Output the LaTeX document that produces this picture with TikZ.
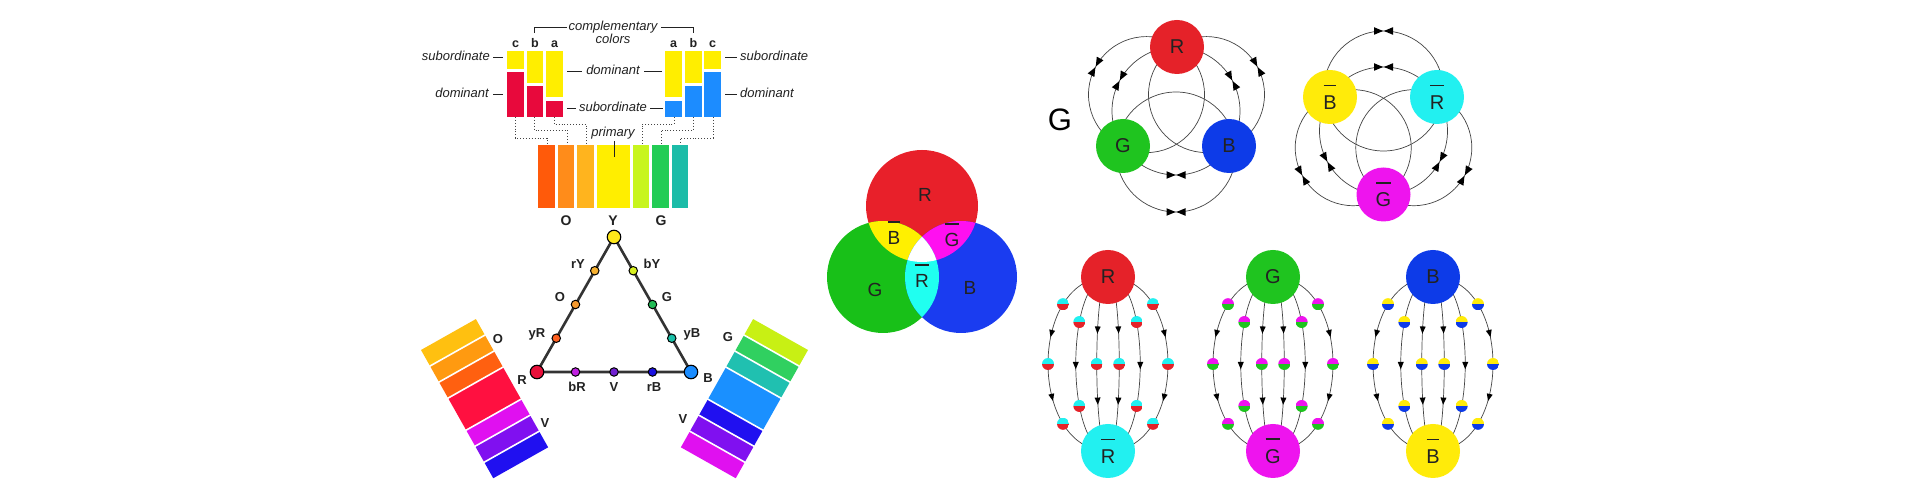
\documentclass[tikz,border=0pt]{standalone}
\usepackage{fontspec}
\setmainfont{Liberation Sans}
\usetikzlibrary{calc,shapes.geometric}
\pgfdeclarelayer{background}
\pgfsetlayers{background,main}
\definecolor{txt}{HTML}{222222}
\definecolor{dotc}{HTML}{444444}
\definecolor{tril}{HTML}{333333}
\definecolor{edgec}{HTML}{444444}
\definecolor{byel}{HTML}{FFEE00}
\definecolor{bred}{HTML}{E8093C}
\definecolor{bblu}{HTML}{1C8CFF}
\definecolor{s1}{HTML}{FF5A0A}
\definecolor{s2}{HTML}{FF8C1A}
\definecolor{s3}{HTML}{FFB41E}
\definecolor{s4}{HTML}{FFEE00}
\definecolor{s5}{HTML}{C8F51E}
\definecolor{s6}{HTML}{22CC55}
\definecolor{s7}{HTML}{1CBCA8}
\definecolor{tY}{HTML}{FFE81A}
\definecolor{tR}{HTML}{E8103A}
\definecolor{tB}{HTML}{1A8CFF}
\definecolor{trY}{HTML}{F5B030}
\definecolor{tbY}{HTML}{D8F020}
\definecolor{tO}{HTML}{F59A30}
\definecolor{tG}{HTML}{22BB55}
\definecolor{tyR}{HTML}{FF6020}
\definecolor{tyB}{HTML}{1AC0A8}
\definecolor{tbR}{HTML}{C020E0}
\definecolor{tV}{HTML}{7020D0}
\definecolor{trB}{HTML}{1A10E0}
\definecolor{fA}{HTML}{FFC010}
\definecolor{fO}{HTML}{FF9A10}
\definecolor{fD}{HTML}{FF6010}
\definecolor{fR}{HTML}{FF1040}
\definecolor{fM}{HTML}{E010F0}
\definecolor{fP}{HTML}{8010F0}
\definecolor{fB}{HTML}{2010F0}
\definecolor{fYG}{HTML}{C8F014}
\definecolor{fG}{HTML}{30D060}
\definecolor{fT}{HTML}{20C0B0}
\definecolor{fBl}{HTML}{1A90FF}
\definecolor{vR}{HTML}{E8202A}
\definecolor{vG}{HTML}{18C018}
\definecolor{vB}{HTML}{1A3CF0}
\definecolor{vY}{HTML}{FFF000}
\definecolor{vM}{HTML}{FF10F0}
\definecolor{vC}{HTML}{20FFF0}
\definecolor{gR}{HTML}{E52229}
\definecolor{gG}{HTML}{1FC41F}
\definecolor{gB}{HTML}{0D3BE8}
\definecolor{gY}{HTML}{FFEB0A}
\definecolor{gC}{HTML}{22F0F0}
\definecolor{gM}{HTML}{EE14EE}
\newcommand\obar[1]{\setbox0\hbox{#1}\vbox{\hbox to \wd0{\hss\vrule width 0.95\wd0 height 1.8pt\hss}\kern3pt\box0}}
\newcommand\tiearrows[3]{\begin{scope}[shift={($(#1)+(#3:#2)$)}, rotate=#3]
 \fill[black] (0,0.4) -- (-3.8,9.5) -- (3.8,9.5) -- cycle;
 \fill[black] (0,-0.4) -- (-3.8,-9.5) -- (3.8,-9.5) -- cycle;
 \end{scope}}
\newcommand\fluxgraph[6]{%
 \node[gnode, fill=#3] (#1t) at (#2,223) {#5};
 \node[gnode, fill=#4] (#1b) at (#2,49) {#6};
 \begin{pgfonlayer}{background}
 \foreach \s in {-1,1}{%
  \draw[fedge] (#1t.center) .. controls +(\s*80,0) and +(\s*80,0) .. (#1b.center)
   node[hd={#4}{#3},pos=.25]{} node[am,pos=.375]{} node[hd={#4}{#3},pos=.5]{} node[am,pos=.625]{} node[hd={#4}{#3},pos=.75]{};
  \draw[fedge] (#1t.center) .. controls +(\s*43,0) and +(\s*43,0) .. (#1b.center)
   node[hd={#4}{#3},pos=.333]{} node[am,pos=.5]{} node[hd={#4}{#3},pos=.667]{};
  \draw[fedge] (#1t.center) .. controls +(\s*15,0) and +(\s*15,0) .. (#1b.center)
   node[am,pos=.36]{} node[hd={#4}{#3},pos=.5]{} node[am,pos=.64]{};
 }
 \end{pgfonlayer}}
\tikzset{
 txtl/.style={font=\fontsize{13}{14}\selectfont\itshape, text=txt, inner sep=0},
 bl/.style={font=\fontsize{12.5}{13}\selectfont\bfseries, text=txt, inner sep=0},
 tl/.style={font=\fontsize{13}{14}\selectfont\bfseries, text=txt, inner sep=0},
 vl/.style={font=\fontsize{19}{19}\selectfont, text=txt, inner sep=0},
 lblrule/.style={draw=txt, line width=0.9},
 dotl/.style={draw=dotc, dotted, line width=0.9},
 triline/.style={draw=tril, line width=2.6},
 bigv/.style={circle, draw=black, line width=1.1, minimum size=13.5, inner sep=0},
 smv/.style={circle, draw=black, line width=1.0, minimum size=8.5, inner sep=0},
 gnode/.style={circle, minimum size=54, inner sep=0, font=\fontsize{20}{20}\selectfont, text=txt},
 gedge/.style={draw=edgec, line width=0.7},
 fedge/.style={draw=edgec, line width=0.7},
 am/.style={isosceles triangle, isosceles triangle apex angle=45, fill=black, inner sep=0, minimum width=6, minimum height=6, sloped, allow upside down},
 hd/.style 2 args={circle, minimum size=12, inner sep=0,
   path picture={\fill[#1] (path picture bounding box.north west) rectangle (path picture bounding box.east);
                 \fill[#2] (path picture bounding box.west) rectangle (path picture bounding box.south east);}}
}
\begin{document}
\begin{tikzpicture}[x=1pt,y=1pt]
\useasboundingbox (0,0) rectangle (1920,500);
\begin{pgfonlayer}{background}\fill[white] (0,0) rectangle (1920,500);\end{pgfonlayer}

% ---------------- bar chart
\fill[byel] (507,449) rectangle (524,431);
\fill[bred] (507,428) rectangle (524,383);
\fill[byel] (527,449) rectangle (543,417);
\fill[bred] (527,414) rectangle (543,383);
\fill[byel] (546,449) rectangle (563,403);
\fill[bred] (546,399) rectangle (563,383);
\fill[byel] (665,449) rectangle (682,403);
\fill[bblu] (665,399) rectangle (682,383);
\fill[byel] (685,449) rectangle (702,417);
\fill[bblu] (685,414) rectangle (702,383);
\fill[byel] (704,449) rectangle (721,431);
\fill[bblu] (704,428) rectangle (721,383);

\node[bl, anchor=base] (lc1) at (515.5,452.5) {c};
\node[bl, anchor=base] (lb1) at (535,452.5) {b};
\node[bl, anchor=base] (la1) at (554.5,452.5) {a};
\node[bl, anchor=base] (la2) at (673.5,452.5) {a};
\node[bl, anchor=base] (lb2) at (693.5,452.5) {b};
\node[bl, anchor=base] (lc2) at (712.5,452.5) {c};

\node[txtl, anchor=base] (comp) at (613,469.6) {complementary};
\node[txtl, anchor=base] (cols) at (613,456.6) {colors};
\draw[lblrule] (534,467) -- (534,473) -- (566.5,473);
\draw[lblrule] (661,473) -- (693,473) -- (693,467);

\node[txtl, anchor=base east] (subL) at (490,439.6) {subordinate};
\draw[lblrule] (493,443) -- (503,443);
\node[txtl, anchor=base east] (domL) at (489,402.6) {dominant};
\draw[lblrule] (493,406) -- (503,406);
\node[txtl, anchor=base] (domC) at (613,425.6) {dominant};
\draw[lblrule] (567,429) -- (582,429);
\draw[lblrule] (644,429) -- (662,429);
\node[txtl, anchor=base] (subC) at (613,388.6) {subordinate};
\draw[lblrule] (567,392) -- (576,392);
\draw[lblrule] (650,392) -- (663,392);
\node[txtl, anchor=base west] (subR) at (740,439.6) {subordinate};
\draw[lblrule] (725,443) -- (737,443);
\node[txtl, anchor=base west] (domR) at (740,402.6) {dominant};
\draw[lblrule] (725,406) -- (737,406);

% dotted links
\draw[dotl] (515,383) -- (515,362) -- (547,362) -- (547,355);
\draw[dotl] (534,383) -- (534,370) -- (567,370) -- (567,355);
\draw[dotl] (554,383) -- (554,376) -- (586,376) -- (586,355);
\draw[dotl] (674,383) -- (674,376) -- (642,376) -- (642,355);
\draw[dotl] (693,383) -- (693,370) -- (661,370) -- (661,355);
\draw[dotl] (713,383) -- (713,362) -- (680,362) -- (680,355);
\node[txtl, anchor=base] (prim) at (613,363.6) {primary};

% spectrum
\fill[s1] (538,355) rectangle (555,292);
\fill[s2] (558,355) rectangle (574,292);
\fill[s3] (577,355) rectangle (594,292);
\fill[s4] (597,355) rectangle (630,292);
\fill[s5] (633,355) rectangle (649,292);
\fill[s6] (652,355) rectangle (669,292);
\fill[s7] (672,355) rectangle (688,292);
\draw[lblrule] (614,359) -- (614,343);
\node[font=\fontsize{14}{14}\selectfont\bfseries, text=txt, inner sep=0, anchor=base] (spO) at (566,274) {O};
\node[font=\fontsize{14}{14}\selectfont\bfseries, text=txt, inner sep=0, anchor=base] (spY) at (613,274) {Y};
\node[font=\fontsize{14}{14}\selectfont\bfseries, text=txt, inner sep=0, anchor=base] (spG) at (661,274) {G};

% ---------------- triangle
\coordinate (cR) at (537,128);
\coordinate (cY) at (614,263);
\coordinate (cB) at (691,128);
\draw[triline] (cR) -- (cY) -- (cB) -- cycle;
\node[bigv, fill=tR] (vxR) at (cR) {};
\node[bigv, fill=tY] (vxY) at (cY) {};
\node[bigv, fill=tB] (vxB) at (cB) {};
\node[smv, fill=tyR] (vyR) at ($(cR)!0.25!(cY)$) {};
\node[smv, fill=tO] (vO) at ($(cR)!0.5!(cY)$) {};
\node[smv, fill=trY] (vrY) at ($(cR)!0.75!(cY)$) {};
\node[smv, fill=tyB] (vyB) at ($(cB)!0.25!(cY)$) {};
\node[smv, fill=tG] (vG) at ($(cB)!0.5!(cY)$) {};
\node[smv, fill=tbY] (vbY) at ($(cB)!0.75!(cY)$) {};
\node[smv, fill=tbR] (vbR) at ($(cR)!0.25!(cB)$) {};
\node[smv, fill=tV] (vV) at ($(cR)!0.5!(cB)$) {};
\node[smv, fill=trB] (vrB) at ($(cR)!0.75!(cB)$) {};
\node[tl, anchor=base] (lrY) at (578,231.4) {rY};
\node[tl, anchor=base] (lbY) at (652,231.4) {bY};
\node[tl, anchor=base] (lO) at (560,198.4) {O};
\node[tl, anchor=base] (lG) at (667,198.4) {G};
\node[tl, anchor=base] (lyR) at (537,162.4) {yR};
\node[tl, anchor=base] (lyB) at (692,162.4) {yB};
\node[tl, anchor=base] (lR) at (522,115.4) {R};
\node[tl, anchor=base] (lB) at (708,117) {B};
\node[tl, anchor=base] (lbR) at (577,108.4) {bR};
\node[tl, anchor=base] (lV) at (614,108.4) {V};
\node[tl, anchor=base] (lrB) at (654,108.4) {rB};

% ---------------- fans
\begin{scope}[shift={(421,150)}, rotate=29.4]
 \foreach \a/\b/\c in {0/1/fA,1/2/fO,2/3/fD,3/5/fR,5/6/fM,6/7/fP,7/8/fB}
   \fill[\c] (0,-\a*18.4) rectangle (63,-\b*18.4);
 \foreach \k in {1,2,3,5,6,7} \draw[white, line width=1.6] (-1,-\k*18.4) -- (64,-\k*18.4);
\end{scope}
\begin{scope}[shift={(808,150)}, rotate=-29.4, xscale=-1]
 \foreach \a/\b/\c in {0/1/fYG,1/2/fG,2/3/fT,3/5/fBl,5/6/fB,6/7/fP,7/8/fM}
   \fill[\c] (0,-\a*18.4) rectangle (63,-\b*18.4);
 \foreach \k in {1,2,3,5,6,7} \draw[white, line width=1.6] (-1,-\k*18.4) -- (64,-\k*18.4);
\end{scope}
\node[tl] (fanO) at (498,161) {O};
\node[tl] (fanV1) at (545,77) {V};
\node[tl] (fanG) at (728,163) {G};
\node[tl] (fanV2) at (683,81) {V};

% ---------------- Venn
\fill[vR] (922,294) circle (56);
\fill[vG] (883,223) circle (56);
\fill[vB] (961,223) circle (56);
\begin{scope}
 \clip (922,294) circle (56);
 \fill[vY] (883,223) circle (56);
 \fill[vM] (961,223) circle (56);
\end{scope}
\begin{scope}
 \clip (883,223) circle (56);
 \fill[vC] (961,223) circle (56);
 \clip (961,223) circle (56);
 \fill[white] (922,294) circle (56);
\end{scope}
\node[vl, anchor=base] (vnR) at (925,298) {R};
\node[vl, anchor=base] (vnBb) at (894,255) {\obar{B}};
\node[vl, anchor=base] (vnGb) at (952,253) {\obar{G}};
\node[vl, anchor=base] (vnG) at (875,203) {G};
\node[vl, anchor=base] (vnRb) at (922,212) {\obar{R}};
\node[vl, anchor=base] (vnB) at (970,205) {B};

% ---------------- top graph 1
\node[font=\fontsize{31}{31}\selectfont, text=black, inner sep=0] (bigG) at (1060,380) {G};
\node[gnode, fill=gR] (g1R) at (1177,453) {R};
\node[gnode, fill=gG] (g1G) at (1123,354) {G};
\node[gnode, fill=gB] (g1B) at (1229,354) {B};
\coordinate (c1a) at (1176,389);
\coordinate (c1b) at (1176,348);
\coordinate (c1c) at (1146.5,405.4);
\coordinate (c1d) at (1206.5,405.4);
\begin{pgfonlayer}{background}
 \draw[gedge] (c1a) circle (64);
 \draw[gedge] (c1b) circle (60);
 \draw[gedge] (c1c) circle (58);
 \draw[gedge] (c1d) circle (58);
\end{pgfonlayer}
\tiearrows{c1a}{64}{-90}
\tiearrows{c1a}{64}{151.7}
\tiearrows{c1a}{64}{28.3}
\tiearrows{c1b}{60}{-90}
\tiearrows{c1c}{58}{151.4}
\tiearrows{c1d}{58}{28.6}

% ---------------- top graph 2
\node[gnode, fill=gY] (g2B) at (1330,403) {\obar{B}};
\node[gnode, fill=gC] (g2R) at (1437,403) {\obar{R}};
\node[gnode, fill=gM] (g2G) at (1383.5,305.5) {\obar{G}};
\coordinate (c2a) at (1383.5,369);
\coordinate (c2b) at (1383.5,409);
\coordinate (c2c) at (1353.2,352.3);
\coordinate (c2d) at (1413.8,352.3);
\begin{pgfonlayer}{background}
 \draw[gedge] (c2a) circle (64);
 \draw[gedge] (c2b) circle (60);
 \draw[gedge] (c2c) circle (58);
 \draw[gedge] (c2d) circle (58);
\end{pgfonlayer}
\tiearrows{c2a}{64}{90}
\tiearrows{c2a}{64}{208.8}
\tiearrows{c2a}{64}{-28.8}
\tiearrows{c2b}{60}{90}
\tiearrows{c2c}{58}{208.7}
\tiearrows{c2d}{58}{-28.7}

% ---------------- bottom flux graphs
\fluxgraph{fr}{1108}{gR}{gC}{R}{\obar{R}}
\fluxgraph{fg}{1273}{gG}{gM}{G}{\obar{G}}
\fluxgraph{fb}{1433}{gB}{gY}{B}{\obar{B}}
\end{tikzpicture}
\end{document}
